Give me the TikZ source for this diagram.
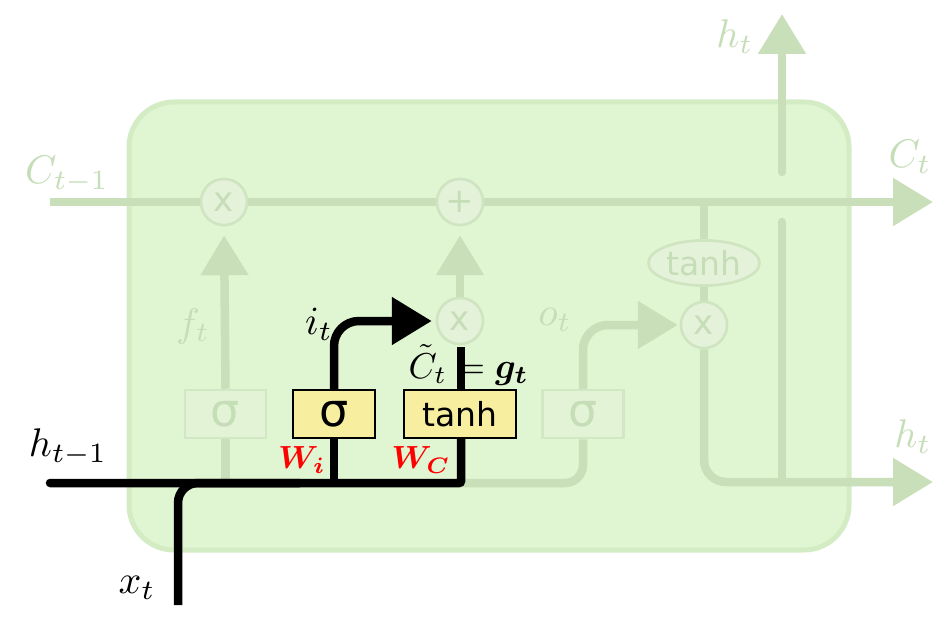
\documentclass[tikz,border=0pt]{standalone}
\usepackage{amsmath,bm}
\usepackage{fontspec}
\newfontfamily\dejavu{DejaVu Sans}
\usetikzlibrary{arrows.meta,shapes.geometric}
\definecolor{bgfill}{HTML}{E0F5D1}
\definecolor{bgborder}{HTML}{D4ECC4}
\definecolor{gline}{HTML}{C9DFBA}
\definecolor{cfill}{HTML}{E4F2D9}
\definecolor{cborder}{HTML}{CFE5C1}
\definecolor{fbox}{HTML}{E3F4D6}
\definecolor{fborder}{HTML}{D2E8C4}
\definecolor{gtext}{HTML}{C6DEB8}
\definecolor{ybox}{HTML}{F7EE9F}
\tikzset{
  gl/.style={draw=gline,line width=8.5pt},
  bl/.style={draw=black,line width=8.5pt},
  tip/.style={-{Triangle[length=40pt,width=46pt]}},
  opc/.style={circle,draw=cborder,fill=cfill,line width=2.5pt,minimum size=46pt,inner sep=0pt,text=gtext,font=\dejavu\fontsize{34}{34}\selectfont},
  fadebox/.style={rectangle,draw=fborder,fill=fbox,line width=2.5pt,minimum height=48pt,text=gtext,font=\dejavu\fontsize{46}{46}\selectfont},
  ygate/.style={rectangle,draw=black,fill=ybox,line width=2.5pt,minimum height=48pt,text=black},
  tanhell/.style={ellipse,draw=cborder,fill=cfill,line width=2.5pt,minimum width=111pt,minimum height=45pt,inner sep=0pt,text=gtext,font=\dejavu\fontsize{33}{33}\selectfont},
  glab/.style={text=gtext,scale=4,inner sep=0pt},
  blab/.style={text=black,scale=4,inner sep=0pt},
  rlab/.style={text=red,scale=3.2,inner sep=0pt}
}
\begin{document}
\begin{tikzpicture}[x=1pt,y=-1pt]
\useasboundingbox[fill=white] (0,0) rectangle (936,617);
% cell body
\draw[draw=bgborder,fill=bgfill,line width=5pt,rounded corners=45pt] (129,102) rectangle (849,550);
% coordinates
\coordinate (cin) at (50,202);
\coordinate (cout) at (933,202);
\coordinate (hin) at (50,483);
\coordinate (hcorner) at (461,483);
\coordinate (xin) at (178,605);
\coordinate (htopstart) at (782,172);
\coordinate (htop) at (782,14);
\coordinate (hvlow) at (782,222);
\coordinate (hout) at (933,482);
% nodes
\node[opc] (mulf) at (224,202) {x};
\node[opc] (add) at (460,202) {+};
\node[opc] (muli) at (460,321) {x};
\node[opc] (mulo) at (704,325) {x};
\node[tanhell] (tanhc) at (704,263) {tanh};
\node[fadebox,minimum width=81pt] (fgate) at (225.5,414) {σ};
\node[ygate,minimum width=82pt,font=\dejavu\fontsize{46}{46}\selectfont] (igate) at (334,414) {σ};
\node[ygate,minimum width=112pt,font=\dejavu\fontsize{33}{33}\selectfont] (tgate) at (460,414) {tanh};
\node[fadebox,minimum width=81pt] (ogate) at (583,414) {σ};
% green connectors
\draw[gl,tip] (cin) -- (cout);
\draw[gl,tip,shorten >=9pt] (fgate.north) -- (mulf.south);
\draw[gl] (fgate.south) -- (fgate.south |- hin);
\draw[gl,tip,shorten >=9pt] (muli.north) -- (add.south);
\draw[gl] (tanhc.north |- cin) -- (tanhc.north);
\draw[gl] (tanhc.south) -- (mulo.north);
\draw[gl,rounded corners=18pt] (hcorner) -| (ogate.south);
\draw[gl,tip,rounded corners=25pt,shorten >=2pt] (ogate.north) |- (mulo.west);
\draw[gl,tip,rounded corners=22pt] (mulo.south) |- (hout);
\draw[gl,line cap=round] (hvlow) -- (782,482);
\draw[gl,tip,line cap=round] (htopstart) -- (htop);
% redraw nodes on top
\node[opc] at (mulf) {x};
\node[opc] at (add) {+};
\node[opc] at (muli) {x};
\node[opc] at (mulo) {x};
\node[tanhell] at (tanhc) {tanh};
\node[fadebox,minimum width=81pt] at (fgate) {σ};
\node[fadebox,minimum width=81pt] at (ogate) {σ};
% black connectors
\draw[bl,line cap=round,rounded corners=2pt] (hin) -- (hcorner) -- (hcorner |- tgate.south);
\draw[bl,rounded corners=20pt] (xin) |- (300,483);
\draw[bl] (igate.south |- hin) -- (igate.south);
\draw[bl,tip,rounded corners=25pt,shorten >=4pt] (igate.north) |- (muli.west);
\draw[bl] (tgate.north -| hcorner) -- (461,347);
\node[ygate,minimum width=82pt,font=\dejavu\fontsize{46}{46}\selectfont] at (igate) {σ};
\node[ygate,minimum width=112pt,font=\dejavu\fontsize{33}{33}\selectfont] at (tgate) {tanh};
% labels
\node[glab] (lc1) at (67,175) {$C_{t-1}$};
\node[glab] (lht) at (735,37) {$h_t$};
\node[glab] (lct) at (910,157) {$C_t$};
\node[glab] (lhr) at (913,437) {$h_t$};
\node[glab] (lft) at (193,326) {$f_t$};
\node[glab] (lot) at (555,320) {$o_t$};
\node[blab] (lit) at (319,324) {$i_t$};
\node[blab,scale=0.9,anchor=west] (lct2) at (408,365) {$\tilde{C}_t=\bm{g_t}$};
\node[blab] (lh1) at (68,447) {$h_{t-1}$};
\node[blab] (lx) at (137,588) {$x_t$};
\node[rlab] (lwi) at (302,460) {$\bm{W_i}$};
\node[rlab] (lwc) at (421,460) {$\bm{W_C}$};
\end{tikzpicture}
\end{document}
